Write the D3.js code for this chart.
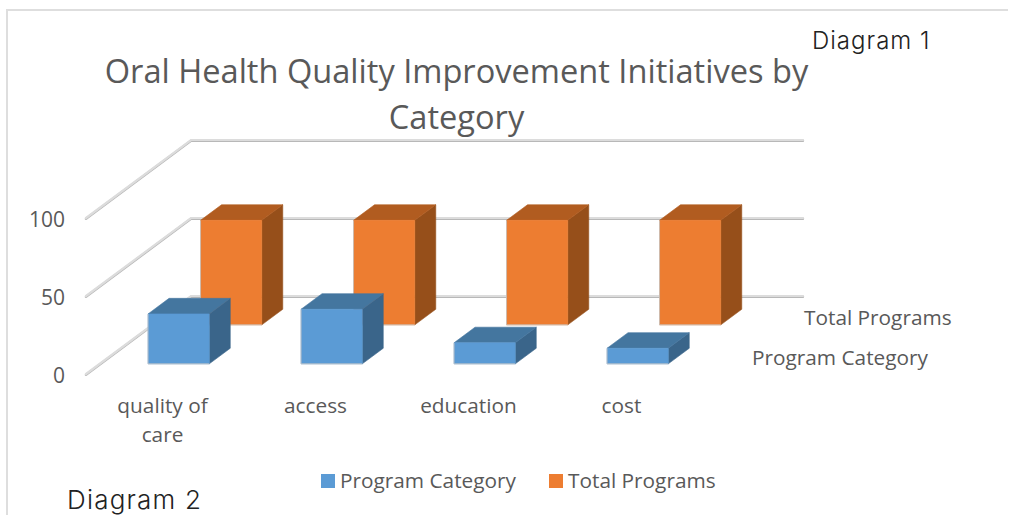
<!DOCTYPE html>
<html>
<head>
<meta charset="utf-8">
<script src="https://cdn.jsdelivr.net/npm/d3@7"></script>
<style>
html, body { margin: 0; padding: 0; background: #fff; }
svg { display: block; }
text { font-family: "Open Sans", sans-serif; fill: #595959; }
</style>
</head>
<body>
<svg width="1010" height="515"></svg>
<script>
var categories = [["quality of", "care"], ["access"], ["education"], ["cost"]];
var categoryNames = ["quality of care", "access", "education", "cost"];
var seriesNames = ["Program Category", "Total Programs"];
var programCategory = [32, 35, 13.5, 10];
var totalPrograms = [67, 67, 67, 67];
var yTicks = [0, 50, 100];
var titleLines = ["Oral Health Quality Improvement Initiatives by", "Category"];

var svg = d3.select("svg");

// the 3d box: how far the back wall is shifted from the front edge
var depthX = 105, depthY = 78;

var y = d3.scaleLinear().domain([0, 100]).range([374, 218]);
var floorX = d3.scaleLinear().domain([0, 1]).range([86, 698]);

var x = d3.scaleBand().domain(categoryNames).range([88.5, 700.5]).paddingInner(0.6).paddingOuter(0.3);
var z = d3.scaleBand().domain(seriesNames).range([-0.02, 0.98]).paddingInner(0.6).paddingOuter(0.3);

var colors = {
	"Program Category": { front: "#5b9bd5", top: "#44769f", side: "#3a658a" },
	"Total Programs": { front: "#ed7d31", top: "#b15c20", side: "#964f1a" }
};

function project(px, value, depth) {
	return [px + depth * depthX, y(value) - depth * depthY];
}

// frame
svg.append("path")
	.attr("d", "M7,515V10H1008")
	.attr("fill", "none")
	.attr("stroke", "#dedede")
	.attr("stroke-width", 2);

// gridlines, grey shadow under a lighter line
var line = d3.line();
yTicks.forEach(function(t) {
	var pts = [project(floorX(0), t, 0), project(floorX(0), t, 1), project(floorX(1), t, 1)];
	svg.append("path").attr("d", line(pts)).attr("fill", "none")
		.attr("transform", "translate(0,0.8)")
		.attr("stroke", "#b8b8b8").attr("stroke-width", 2.4).attr("stroke-linecap", "round");
	svg.append("path").attr("d", line(pts)).attr("fill", "none")
		.attr("stroke", "#dcdcdc").attr("stroke-width", 2.2).attr("stroke-linecap", "round");
});

function drawBars(name, values) {
	var c = colors[name];
	var z0 = z(name), z1 = z(name) + z.bandwidth();
	var g = svg.append("g").attr("class", "series");

	categoryNames.forEach(function(cat, i) {
		var x0 = x(cat), x1 = x(cat) + x.bandwidth(), v = values[i];
		var front = [project(x0, 0, z0), project(x1, 0, z0), project(x1, v, z0), project(x0, v, z0)];
		var side = [project(x1, 0, z0), project(x1, 0, z1), project(x1, v, z1), project(x1, v, z0)];
		var top = [project(x0, v, z0), project(x1, v, z0), project(x1, v, z1), project(x0, v, z1)];

		[[side, c.side], [top, c.top], [front, c.front]].forEach(function(f) {
			g.append("polygon")
				.attr("points", f[0].join(" "))
				.attr("fill", f[1])
				.attr("stroke", f[1])
				.attr("stroke-width", 0.6);
		});
		// thin grey edge along the bottom, as in the picture
		g.append("path")
			.attr("d", line([front[3], front[0], front[1]]))
			.attr("fill", "none")
			.attr("stroke", "#c4c4c4")
			.attr("stroke-width", 0.8);
	});
}

// back row first so the blue boxes sit in front
drawBars("Total Programs", totalPrograms);
drawBars("Program Category", programCategory);

// y labels
svg.selectAll(".ytick").data(yTicks).enter().append("text")
	.attr("class", "ytick")
	.attr("x", 65)
	.attr("y", function(d) { return y(d) + 2; })
	.attr("dy", "0.35em")
	.attr("text-anchor", "end")
	.attr("font-size", 21)
	.text(function(d) { return d; });

// category labels
categories.forEach(function(lines, i) {
	var cx = x(categoryNames[i]) + x.bandwidth() / 2 - 2.5;
	lines.forEach(function(l, j) {
		svg.append("text")
			.attr("x", cx)
			.attr("y", 413 + j * 29)
			.attr("text-anchor", "middle")
			.attr("font-size", 20.8)
			.text(l);
	});
});

// series labels along the depth axis
svg.append("text").attr("x", 804).attr("y", 325).attr("font-size", 20.8).text(seriesNames[1]);
svg.append("text").attr("x", 752).attr("y", 365).attr("font-size", 20.8).text(seriesNames[0]);

// title
titleLines.forEach(function(l, i) {
	svg.append("text")
		.attr("x", 456.5)
		.attr("y", 82.5 + i * 46)
		.attr("text-anchor", "middle")
		.attr("font-size", 32.6)
		.text(l);
});

// legend
var legendX = [321, 549];
seriesNames.forEach(function(name, i) {
	svg.append("rect")
		.attr("x", legendX[i]).attr("y", 474)
		.attr("width", 14).attr("height", 14)
		.attr("fill", colors[name].front);
	svg.append("text")
		.attr("x", legendX[i] + 19).attr("y", 488)
		.attr("font-size", 20.8)
		.text(name);
});

// the two captions pasted on the picture
svg.append("text").attr("x", 812).attr("y", 49).attr("font-size", 24)
	.style("font-family", "Inter").style("font-weight", 300)
	.style("letter-spacing", "1px")
	.style("fill", "#222").text("Diagram 1");
svg.append("text").attr("x", 67).attr("y", 509).attr("font-size", 26)
	.style("font-family", "Inter").style("font-weight", 300)
	.style("letter-spacing", "1.2px")
	.style("fill", "#222").text("Diagram 2");
</script>
</body>
</html>
